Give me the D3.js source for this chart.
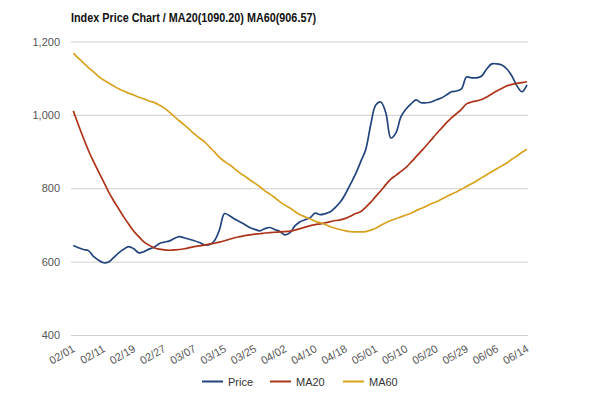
<!DOCTYPE html>
<html><head><meta charset="utf-8">
<script src="https://cdn.jsdelivr.net/npm/d3@7/dist/d3.min.js"></script>
<style>
html,body{margin:0;padding:0;background:#fff;}
text{font-family:"Liberation Sans",Arial,sans-serif;}
</style></head>
<body><svg id="c" width="600" height="394"></svg>
<script>
// Tick labels (every 6th trading day)
const tickLabels = ["02/01","02/11","02/19","02/27","03/07","03/15","03/25","04/02","04/10","04/18","05/01","05/10","05/20","05/29","06/06","06/14"];
const tickStep = 6;
const yTicks = [400, 600, 800, 1000, 1200];

const price = [644,638,633,630,614,604,597,599,611,624,634,641,635,624,627,634,639,649,653,656,
  663,668,665,661,657,652,646,646,657,687,731,725,716,709,701,693,688,684,690,693,
  687,682,673,679,698,709,714,720,732,728,731,736,748,763,785,812,839,872,905,973,
  1027,1035,1005,937,951,995,1016,1030,1041,1033,1033,1035,1041,1046,1054,1063,1065,1071,1103,1101,
  1101,1106,1125,1139,1139,1136,1125,1106,1079,1063,1082];
const ma20 = [1011,973,937,903,873,845,818,790,766,744,722,702,683,668,654,645,638,634,632,631,
  632,633,635,638,641,643,645,648,650,653,657,661,665,668,671,673,675,676,678,679,
  680,681,682,683,686,690,694,698,701,703,706,709,712,714,718,724,731,736,748,762,
  778,793,810,825,835,846,857,871,886,901,916,932,948,963,978,992,1003,1015,1030,1035,
  1038,1042,1049,1057,1065,1072,1079,1083,1086,1088,1090.2];
const ma60 = [1168,1155,1142,1129,1117,1105,1095,1087,1079,1071,1065,1059,1054,1048,1044,1038,1034,1027,1019,1008,
  996,984,973,961,948,937,927,913,899,884,873,864,853,842,833,823,814,804,793,784,
  774,763,754,746,736,728,722,716,710,706,701,695,691,687,684,682,681,681,682,686,
  691,699,706,712,717,722,727,732,739,745,751,758,763,770,777,784,790,797,805,812,
  820,829,837,845,853,861,869,879,888,898,906.57];

const seriesNames = ["Price","MA20","MA60"];
const seriesColors = ["#22447e","#ad3419","#d9a21e"];
const titleText = "Index Price Chart / MA20(1090.20) MA60(906.57)";

(function(){
const svg = d3.select("#c");
const pL = 73.3, pR = 527, pT = 41.5, pB = 335;
const x = d3.scaleLinear().domain([0, price.length - 1]).range([pL, pR]);
const y = d3.scaleLinear().domain([400, 1200]).range([pB, pT]);

// title
svg.append("text").attr("x", 71).attr("y", 22).attr("font-size", 12).attr("font-weight", "bold")
  .attr("fill", "#111").attr("textLength", 245).attr("lengthAdjust", "spacingAndGlyphs").text(titleText);

// y grid + labels
const yAxis = svg.append("g").attr("transform", `translate(71,0)`)
  .call(d3.axisLeft(y).tickValues(yTicks).tickSize(-457).tickPadding(11).tickFormat(d3.format(",")));
yAxis.select(".domain").remove();
yAxis.selectAll(".tick line").attr("stroke", "#cfcfcf").attr("stroke-width", 1);
yAxis.selectAll(".tick text").attr("font-size", 11).attr("fill", "#555")
  .attr("font-family", "Liberation Sans, Arial, sans-serif");

// x axis labels
const xt = d3.range(0, price.length, tickStep);
const xAxis = svg.append("g").attr("transform", `translate(0,${pB})`)
  .call(d3.axisBottom(x).tickValues(xt).tickSize(0).tickFormat((d, i) => tickLabels[i]));
xAxis.select(".domain").remove();
xAxis.selectAll(".tick text").attr("font-size", 11).attr("fill", "#555")
  .attr("font-family", "Liberation Sans, Arial, sans-serif")
  .attr("text-anchor", "end").attr("dy", 0).attr("y", 0)
  .attr("transform", "translate(2,16) rotate(-30)");

// lines
const line = d3.line().x((d, i) => x(i)).y(d => y(d)).curve(d3.curveCatmullRom.alpha(0.5));
[price, ma20, ma60].forEach((s, k) => {
  svg.append("path").datum(s).attr("d", line).attr("fill", "none")
    .attr("stroke", seriesColors[k]).attr("stroke-width", 1.7).attr("stroke-linejoin", "round");
});

// legend
const legendX = [202, 270, 343];
const lg = svg.append("g");
seriesNames.forEach((n, k) => {
  lg.append("line").attr("x1", legendX[k]).attr("x2", legendX[k] + 21).attr("y1", 381.5).attr("y2", 381.5)
    .attr("stroke", seriesColors[k]).attr("stroke-width", 2);
  lg.append("text").attr("x", legendX[k] + 26).attr("y", 385.5).attr("font-size", 11).attr("fill", "#333").text(n);
});
})();
</script></body></html>
